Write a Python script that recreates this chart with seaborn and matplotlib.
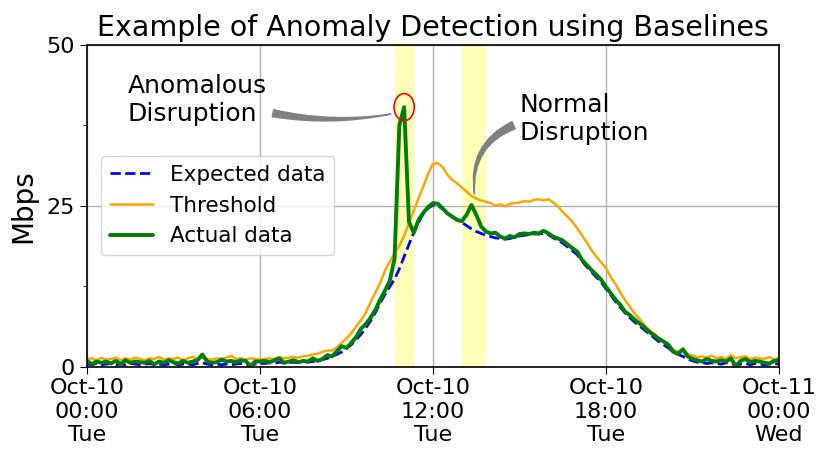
import numpy as np
import pandas as pd
import matplotlib
matplotlib.use("Agg")
import matplotlib.pyplot as plt
import matplotlib.dates as mdates
from matplotlib.patches import Ellipse
import seaborn as sns

# === Data (10-minute samples, Oct-10 00:00 -> Oct-11 00:00) ===
START = "2017-10-10 00:00"

expected = [
    0.4, 0.3, 0.5, 0.3, 0.4, 0.5,
    0.3, 0.4, 0.3, 0.5, 0.4, 0.3,
    0.4, 0.5, 0.3, 0.4, 0.3, 0.4,
    0.5, 0.3, 0.4, 0.4, 0.3, 0.5,
    0.6, 0.4, 0.3, 0.4, 0.3, 0.4,
    0.3, 0.4, 0.5, 0.3, 0.2, 0.4,
    0.5, 0.5, 0.6, 0.5, 0.7, 0.6,
    0.6, 0.7, 0.6, 0.8, 0.7, 0.8,
    0.9, 1.1, 1.3, 1.6, 1.9, 2.3,
    2.8, 3.4, 4.2, 5.0, 6.0, 7.1,
    8.4, 9.9, 11.2, 12.4, 13.6, 15.2,
    17.1, 19.0, 20.8, 22.4, 23.8, 24.6,
    25.1, 25.0, 24.5, 23.9, 23.3, 22.8,
    22.4, 21.9, 21.4, 21.0, 20.7, 20.4,
    20.2, 20.0, 19.9, 19.8, 19.9, 20.1,
    20.3, 20.4, 20.5, 20.6, 20.6, 20.7,
    20.5, 20.0, 19.6, 19.2, 18.6, 18.0,
    17.4, 16.4, 15.5, 14.7, 13.9, 13.1,
    12.1, 11.1, 10.1, 9.2, 8.3, 7.6,
    6.9, 6.3, 5.7, 5.1, 4.5, 3.9,
    3.4, 2.9, 2.3, 1.9, 1.6, 1.2,
    0.9, 0.7, 0.6, 0.5, 0.6, 0.5,
    0.4, 0.6, 0.5, 0.2, 0.4, 0.5,
    0.3, 0.5, 0.4, 0.3, 0.4, 0.5,
    0.4,
]

threshold = [
    1.2, 1.3, 1.0, 1.4, 1.1, 1.2,
    1.4, 1.0, 1.3, 1.1, 1.4, 1.2,
    1.0, 1.3, 1.2, 1.5, 1.1, 1.3,
    1.2, 1.4, 1.0, 1.3, 1.5, 1.2,
    1.4, 1.2, 1.1, 1.3, 1.2, 1.4,
    1.7, 1.2, 1.3, 1.1, 1.3, 1.2,
    1.1, 1.2, 1.3, 1.2, 1.5, 1.3,
    1.4, 1.5, 1.4, 1.6, 1.7, 1.9,
    2.0, 2.3, 2.5, 2.5, 3.0, 3.7,
    4.4, 5.2, 6.2, 7.2, 8.4, 10.0,
    11.5, 13.0, 14.9, 16.3, 17.6, 18.8,
    20.3, 22.3, 24.2, 26.2, 28.0, 30.0,
    31.5, 31.6, 31.0, 29.8, 29.0, 28.5,
    27.8, 27.2, 26.5, 26.1, 25.8, 25.6,
    25.4, 25.0, 25.2, 24.9, 25.3, 25.4,
    25.5, 25.7, 25.6, 25.9, 26.0, 25.8,
    26.0, 25.5, 24.9, 24.0, 23.3, 22.5,
    21.5, 20.4, 19.3, 18.1, 17.1, 16.2,
    15.3, 13.9, 12.8, 11.5, 10.3, 9.3,
    8.2, 7.4, 6.5, 5.7, 5.1, 4.5,
    3.9, 3.4, 2.7, 2.3, 2.7, 2.0,
    1.7, 1.5, 1.6, 1.4, 1.7, 1.3,
    1.5, 1.2, 1.8, 1.3, 1.5, 1.6,
    1.2, 1.4, 1.3, 1.2, 1.5, 1.1,
    1.4,
]

actual = [
    0.9, 0.4, 0.8, 0.6, 0.8, 0.5,
    0.9, 0.4, 1.0, 0.6, 0.8, 0.7,
    0.6, 0.9, 0.4, 0.8, 0.6, 1.0,
    0.7, 0.5, 0.9, 0.6, 0.8, 1.0,
    1.9, 0.8, 0.6, 0.7, 1.1, 0.8,
    0.9, 0.7, 1.0, 0.9, 0.1, 0.8,
    0.8, 0.9, 0.7, 1.0, 1.3, 0.6,
    0.8, 1.0, 0.7, 0.9, 0.8, 1.3,
    0.9, 1.2, 1.8, 1.6, 2.4, 3.2,
    2.9, 3.7, 4.6, 5.9, 6.6, 7.6,
    8.8, 10.4, 11.8, 13.3, 16.8, 37.5,
    40.3, 22.5, 20.8, 22.8, 23.9, 24.8,
    25.4, 25.3, 24.6, 23.8, 23.3, 22.8,
    22.6, 23.6, 25.1, 23.6, 21.8, 21.0,
    20.7, 20.8, 20.2, 19.9, 20.3, 20.1,
    20.6, 20.7, 20.6, 20.8, 20.7, 21.1,
    20.7, 20.2, 19.9, 19.6, 19.0, 18.4,
    17.9, 16.6, 15.8, 15.0, 14.3, 13.5,
    12.4, 11.4, 10.4, 9.6, 8.5, 8.0,
    7.3, 6.7, 6.1, 5.4, 4.9, 4.3,
    3.9, 3.4, 2.3, 2.0, 2.7, 1.6,
    1.2, 1.0, 0.8, 1.2, 0.9, 0.8,
    1.0, 0.8, 1.3, 0.1, 0.9, 1.2,
    0.7, 0.9, 0.8, 0.6, 0.5, 0.9,
    1.0,
]

# highlighted windows
anomaly_window = ("2017-10-10 10:40", "2017-10-10 11:20")
normal_window = ("2017-10-10 13:00", "2017-10-10 13:50")
peak_time = "2017-10-10 11:00"
peak_value = 40.3

times = pd.date_range(START, periods=len(actual), freq="10min")
df = pd.DataFrame({"time": times, "expected": expected,
                   "threshold": threshold, "actual": actual})

sns.set_style("white", rc={"text.color": "black", "axes.labelcolor": "black",
                           "xtick.color": "black", "ytick.color": "black"})
plt.rcParams["font.family"] = ["DejaVu Sans"]

fig = plt.figure(figsize=(8.31, 4.67), dpi=100)
ax = fig.add_axes([0.1047, 0.2148, 0.8327, 0.6895])

# === Highlighted spans ===
ax.axvspan(pd.Timestamp(anomaly_window[0]), pd.Timestamp(anomaly_window[1]),
           color="yellow", alpha=0.28, lw=0, zorder=0)
ax.axvspan(pd.Timestamp(normal_window[0]), pd.Timestamp(normal_window[1]),
           color="yellow", alpha=0.28, lw=0, zorder=0)

# === Lines ===
sns.lineplot(data=df, x="time", y="expected", ax=ax, color="blue",
             linestyle="--", lw=2, label="Expected data")
sns.lineplot(data=df, x="time", y="threshold", ax=ax, color="orange",
             lw=1.8, label="Threshold")
sns.lineplot(data=df, x="time", y="actual", ax=ax, color="green",
             lw=2.8, label="Actual data")

# red circle around the anomaly
pk = mdates.date2num(pd.Timestamp(peak_time))
ax.add_patch(Ellipse((pk, peak_value), width=0.7 / 24, height=4.2,
                     fill=False, edgecolor="red", lw=1.2, zorder=5))

# === Annotations ===
ax.annotate("Anomalous\nDisruption",
            xy=(pd.Timestamp("2017-10-10 10:38"), 39.3),
            xytext=(pd.Timestamp("2017-10-10 01:25"), 41.4),
            fontsize=18, ha="left", va="center",
            arrowprops=dict(arrowstyle="wedge,tail_width=0.28", color="gray",
                            connectionstyle="arc3,rad=0.1", relpos=(1, 0.27)))
ax.annotate("Normal\nDisruption",
            xy=(pd.Timestamp("2017-10-10 13:27"), 26.4),
            xytext=(pd.Timestamp("2017-10-10 15:00"), 38.5),
            fontsize=18, ha="left", va="center",
            arrowprops=dict(arrowstyle="wedge,tail_width=0.32", color="gray",
                            connectionstyle="arc3,rad=0.4", relpos=(0, 0.42)))

# === Axes ===
ax.set_xlim(pd.Timestamp(START), pd.Timestamp("2017-10-11 00:00"))
ax.set_ylim(0, 50)
ax.xaxis.set_major_locator(mdates.HourLocator(byhour=[0, 6, 12, 18]))
ax.xaxis.set_major_formatter(mdates.DateFormatter("%b-%d\n%H:%M\n%a"))
ax.set_yticks([0, 25, 50])
ax.set_yticks([12.5, 37.5], minor=True)
ax.tick_params(axis="both", which="major", labelsize=16, length=5,
               direction="out", left=True, bottom=True, color="black")
ax.tick_params(axis="y", which="minor", length=3, left=True, color="black")
ax.grid(True, which="major", color="#b0b0b0", lw=1)
for s in ax.spines.values():
    s.set_color("black")
    s.set_linewidth(1.2)

ax.set_xlabel("")
ax.set_ylabel("Mbps", fontsize=20, labelpad=7)
ax.set_title("Example of Anomaly Detection using Baselines", fontsize=20.5)
ax.legend(loc="center left", fontsize=15.5, bbox_to_anchor=(0.005, 0.5),
          framealpha=0.8, edgecolor="0.8", fancybox=True)

fig.savefig("out.png", dpi=100)
